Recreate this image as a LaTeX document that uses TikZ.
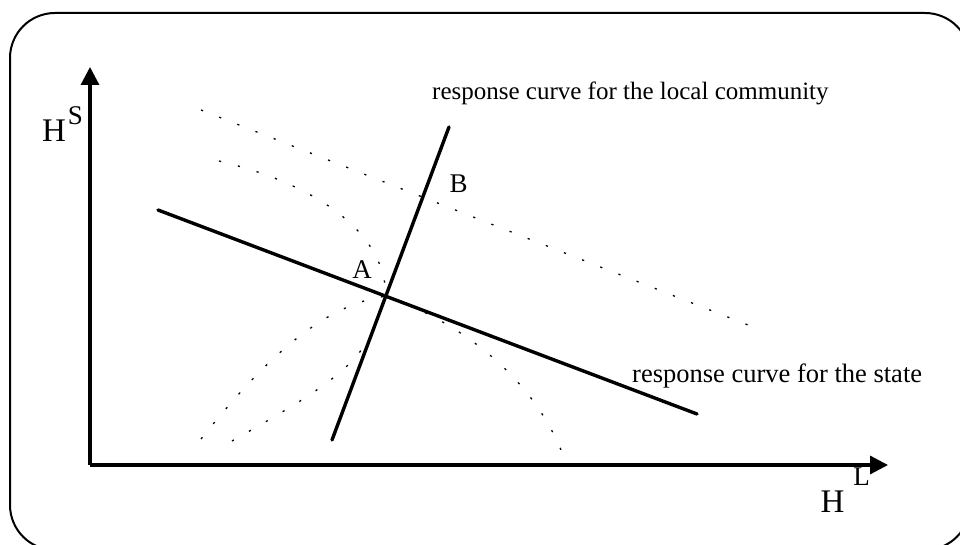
\documentclass[tikz,border=0pt]{standalone}
\usepackage{fontspec}
\setmainfont{Liberation Serif}
\usetikzlibrary{arrows.meta, positioning}
\tikzset{
  frame/.style={line width=2pt, rounded corners=45pt},
  axis/.style={line width=3.2pt, -{Triangle[length=18pt,width=18pt]}},
  response/.style={line width=3.4pt, line cap=round},
  dotcurve/.style={line width=1.3pt, dash pattern=on 2.2pt off 17.3pt},
  axislabel/.style={inner sep=0pt, anchor=base, font=\fontsize{33}{36}\selectfont},
  supscript/.style={inner sep=0pt, anchor=base, font=\fontsize{27}{30}\selectfont},
  curvelabel/.style={inner sep=0pt, anchor=base west, font=\fontsize{25}{30}\selectfont},
  pointlabel/.style={inner sep=0pt, anchor=base, font=\fontsize{27}{30}\selectfont}
}

\begin{document}
\begin{tikzpicture}[x=1pt, y=-1pt]
        \useasboundingbox (0,0) rectangle (960,545);
        \begin{scope}
          \clip (0,0) rectangle (960,545);
          \draw [frame] (10,13) rectangle (970,550);
        \end{scope}

        \coordinate (origin) at (90,465);
        \coordinate (ytip) at (90,67);
        \coordinate (xtip) at (888,465);
        \coordinate (state1) at (158,210);
        \coordinate (state2) at (697,414);
        \coordinate (comm1) at (332,440);
        \coordinate (comm2) at (449,127);
        \coordinate (ptA) at (intersection of state1--state2 and comm1--comm2);

        % dotted iso curves
        \coordinate (isoB1) at (201,110);
        \coordinate (isoB2) at (748,325);
        \coordinate (isoA1) at (219,161);
        \coordinate (isoA2) at (563,455);
        \coordinate (isoC1) at (201,439);
        \coordinate (isoD1) at (232,441);
        \coordinate (isoD2) at (362,349);
        \draw [dotcurve] (isoB1) -- (isoB2);
        \draw [dotcurve] (isoA1) .. controls (320,185) and (386,235) .. (ptA) .. controls (450,318) and (530,370) .. (isoA2);
        \draw [dotcurve] (isoC1) .. controls (260,365) and (320,305) .. (ptA);
        \draw [dotcurve] (isoD1) .. controls (290,408) and (340,380) .. (isoD2);

        \draw [axis] (origin) -- (ytip);
        \draw [axis] (origin) -- (xtip);
        \draw [response] (state1) -- (state2);
        \draw [response] (comm1) -- (comm2);

        \node (hs) [axislabel] at (54,142) {H};
        \node (hssup) [supscript] at (75.5,125) {S};
        \node (hl) [axislabel] at (832.5,512) {H};
        \node (hlsup) [supscript] at (861.5,485) {L};
        \node (lblA) [pointlabel] at (362,278) {A};
        \node (lblB) [pointlabel] at (458.5,193) {B};
        \node (commtext) [curvelabel] at (432,100) {response curve for the local community};
        \node (statetext) [curvelabel, font=\fontsize{26.5}{30}\selectfont] at (632,382) {response curve for the state};

    \end{tikzpicture}
\end{document}
